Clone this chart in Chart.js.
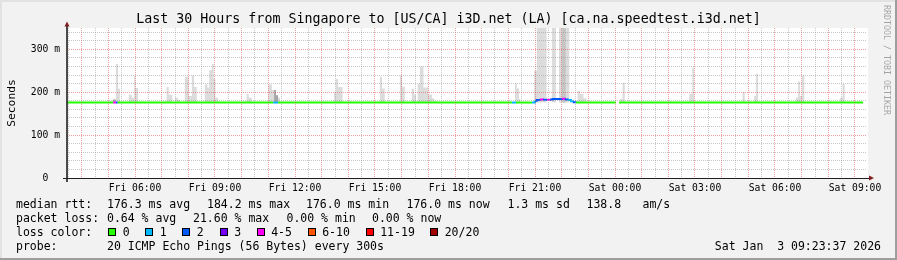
<!DOCTYPE html>
<html>
<head>
<meta charset="utf-8">
<title>Last 30 Hours from Singapore to [US/CA] i3D.net (LA)</title>
<script src="https://cdn.jsdelivr.net/npm/chart.js@4.4.1/dist/chart.umd.min.js"></script>
<style>
  html, body { margin: 0; padding: 0; background: #f2f2f2; }
  #wrap { width: 897px; height: 260px; }
</style>
</head>
<body>
<div id="wrap"><canvas id="graph" width="897" height="260"></canvas></div>
<script>
// Time range of the graph (x axis is hours since Fri 00:00)
const timeStart = 'Fri 03:27';
const timeEnd = 'Sat 09:27';

// Median RTT (ms) and lost pings (out of 20) per change point
const medTimes = ['Fri 03:27', 'Fri 05:11', 'Fri 05:17', 'Fri 05:21', 'Fri 11:11', 'Fri 11:22',
    'Fri 20:08', 'Fri 20:17', 'Fri 20:53', 'Fri 21:00', 'Fri 21:04', 'Fri 21:11', 'Fri 21:18',
    'Fri 21:27', 'Fri 21:34', 'Fri 21:40', 'Fri 22:01', 'Fri 22:07', 'Fri 22:14', 'Fri 22:21',
    'Fri 22:25', 'Fri 22:32', 'Sat 00:02', 'Sat 00:03', 'Sat 00:09', 'Sat 09:18'];
const medValues = [176, 176, 176, 176, 176, 176,
    176, 176, 176, 180, 182, 183, 182.5,
    182.5, 183, 184, 185, 183, 182, 179,
    176.5, 176, 176, null, 176, 176];
const medLoss = [0, 4, 2, 0, 1, 0,
    1, 0, 1, 2, 2, 4, 2,
    4, 2, 2, 4, 2, 1, 1,
    2, 0, 0, 0, 0, 0];

// Smoke (ping spread above the median), light layer
const smokeTimes = ['Fri 03:27',
    'Fri 05:17', 'Fri 05:22', 'Fri 05:26',
    'Fri 05:46', 'Fri 05:53', 'Fri 05:58', 'Fri 06:01', 'Fri 06:07',
    'Fri 07:11', 'Fri 07:16', 'Fri 07:24',
    'Fri 07:30', 'Fri 07:37', 'Fri 07:41',
    'Fri 07:52', 'Fri 08:01', 'Fri 08:08', 'Fri 08:13', 'Fri 08:19',
    'Fri 08:37', 'Fri 08:43', 'Fri 08:47', 'Fri 08:53', 'Fri 08:57', 'Fri 09:01', 'Fri 09:07',
    'Fri 10:11', 'Fri 10:16', 'Fri 10:23',
    'Fri 11:00', 'Fri 11:08', 'Fri 11:13', 'Fri 11:17', 'Fri 11:22', 'Fri 11:26',
    'Fri 13:28', 'Fri 13:32', 'Fri 13:37', 'Fri 13:47',
    'Fri 15:11', 'Fri 15:16', 'Fri 15:22',
    'Fri 15:56', 'Fri 16:01', 'Fri 16:07',
    'Fri 16:23', 'Fri 16:28', 'Fri 16:32', 'Fri 16:36', 'Fri 16:41', 'Fri 16:49', 'Fri 17:00',
    'Fri 17:08', 'Fri 17:13', 'Fri 17:19',
    'Fri 20:15', 'Fri 20:19', 'Fri 20:24', 'Fri 20:27',
    'Fri 20:58', 'Fri 21:04', 'Fri 21:26', 'Fri 21:38', 'Fri 21:47', 'Fri 21:54', 'Fri 22:17',
    'Fri 22:36', 'Fri 22:41', 'Fri 22:49', 'Fri 22:56',
    'Sat 00:11', 'Sat 00:17', 'Sat 00:22',
    'Sat 02:47', 'Sat 02:54', 'Sat 02:58',
    'Sat 04:47', 'Sat 04:52',
    'Sat 05:13', 'Sat 05:17', 'Sat 05:22',
    'Sat 06:47', 'Sat 06:52', 'Sat 06:56', 'Sat 07:01', 'Sat 07:06',
    'Sat 08:26', 'Sat 08:32', 'Sat 08:37', 'Sat 09:18'];
const smokeTops = [176,
    266, 208, 176,
    194, 187, 238, 210, 176,
    212, 194, 176,
    187, 182, 176,
    236, 191, 239, 212, 176,
    218, 211, 252, 266, 231, 187, 176,
    196, 187, 176,
    218, 205, 205, 193, 187, 176,
    201, 231, 212, 176,
    236, 209, 176,
    239, 213, 176,
    208, 194, 176, 219, 260, 211, 195,
    186, 180, 176,
    221, 209, 184, 176,
    250, 350, 176, 350, 176, 350, 176,
    203, 196, 186, 176,
    184, 222, 176,
    196, 258, 176,
    200, 176,
    191, 243, 176,
    188, 225, 191, 239, 176,
    187, 219, 176, 176];

// Darker smoke close to the median
const darkTimes = ['Fri 03:27', 'Fri 05:10', 'Fri 05:17', 'Fri 11:13', 'Fri 11:17', 'Fri 11:22', 'Sat 09:18'];
const darkTops = [176, 183, 176, 205, 193, 176, 176];
const midTimes = ['Fri 03:27', 'Fri 22:01', 'Fri 22:09', 'Sat 09:18'];
const midTops = [176, 350, 176, 176];

const lossColors = ['#22ff00', '#00b8ff', '#0059ff', '#7600ff', '#ff00ff', '#ff5500', '#ff0000', '#a00000'];
const lossLabels = ['0', '1', '2', '3', '4-5', '6-10', '11-19', '20/20'];

const graphTitle = 'Last 30 Hours from Singapore to [US/CA] i3D.net (LA) [ca.na.speedtest.i3d.net]';
const statsRtt = ['median rtt:', '176.3 ms avg', '184.2 ms max', '176.0 ms min', '176.0 ms now', '1.3 ms sd', '138.8', 'am/s'];
const statsLoss = ['packet loss:', '0.64 % avg', '21.60 % max', '0.00 % min', '0.00 % now'];
const probeText = ['probe:', '20 ICMP Echo Pings (56 Bytes) every 300s'];
const stampText = 'Sat Jan  3 09:23:37 2026';

function toHours(s) {
    const [day, hm] = s.split(' ');
    const [h, m] = hm.split(':').map(Number);
    return (day === 'Sat' ? 24 : 0) + h + m / 60;
}

function lossColor(n) {
    if (n <= 3) return lossColors[n];
    if (n <= 5) return lossColors[4];
    if (n <= 10) return lossColors[5];
    if (n <= 19) return lossColors[6];
    return lossColors[7];
}

function points(times, values) {
    return times.map((t, i) => ({ x: toHours(t), y: values[i] }));
}

const MONO = "'DejaVu Sans Mono', monospace";
const majorGrid = 'rgba(222, 79, 79, 0.55)';
const minorGrid = 'rgba(143, 143, 143, 0.5)';

// Background, frame, axes with arrows, legend text and watermark
const rrdDecor = {
    id: 'rrdDecor',
    beforeDraw(chart) {
        const { ctx, chartArea: a, width, height } = chart;
        ctx.save();
        ctx.fillStyle = '#f2f2f2';
        ctx.fillRect(0, 0, width, height);
        ctx.fillStyle = '#e2e2e2';
        ctx.fillRect(0, 0, width, 2);
        ctx.fillRect(0, 0, 2, height);
        ctx.fillStyle = '#9e9e9e';
        ctx.fillRect(width - 2, 0, 2, height);
        ctx.fillRect(0, height - 2, width, 2);
        ctx.fillStyle = '#ffffff';
        ctx.fillRect(a.left, a.top, a.right - a.left + 1, a.bottom - a.top);
        ctx.restore();
    },
    afterDraw(chart) {
        const { ctx, chartArea: a } = chart;
        ctx.save();

        // axes
        ctx.strokeStyle = '#1f1f1f';
        ctx.lineWidth = 1;
        ctx.beginPath();
        ctx.moveTo(a.left - 4, a.bottom + 0.5);
        ctx.lineTo(a.right + 3, a.bottom + 0.5);
        ctx.stroke();
        ctx.lineWidth = 1.6;
        ctx.beginPath();
        ctx.moveTo(a.left, a.bottom + 4);
        ctx.lineTo(a.left, a.top - 2);
        ctx.stroke();

        // arrows
        ctx.fillStyle = '#801f1f';
        ctx.beginPath();
        ctx.moveTo(a.left - 2.5, a.top - 1.5);
        ctx.lineTo(a.left + 2.5, a.top - 1.5);
        ctx.lineTo(a.left, a.top - 6.5);
        ctx.closePath();
        ctx.fill();
        ctx.beginPath();
        ctx.moveTo(a.right + 2, a.bottom - 2.5);
        ctx.lineTo(a.right + 2, a.bottom + 2.5);
        ctx.lineTo(a.right + 7, a.bottom);
        ctx.closePath();
        ctx.fill();

        // legend
        ctx.fillStyle = '#000';
        ctx.font = '11.5px ' + MONO;
        ctx.textBaseline = 'alphabetic';
        ctx.textAlign = 'left';
        const rttX = [16, 107, 207, 306, 406.5, 507.5, 586.5, 642.5];
        statsRtt.forEach((s, i) => ctx.fillText(s, rttX[i], 207.5));
        const lossX = [16, 107, 193, 286.5, 372];
        statsLoss.forEach((s, i) => ctx.fillText(s, lossX[i], 221.7));
        ctx.fillText('loss color:', 16, 235.9);
        const boxX = [108, 145, 182, 219.5, 256.5, 307.5, 365.5, 430];
        lossLabels.forEach((lbl, i) => {
            ctx.fillStyle = lossColors[i];
            ctx.fillRect(Math.round(boxX[i]), 228, 8, 8);
            ctx.strokeStyle = '#000';
            ctx.lineWidth = 1;
            ctx.strokeRect(Math.round(boxX[i]) + 0.5, 228.5, 7, 7);
            ctx.fillStyle = '#000';
            ctx.fillText(lbl, boxX[i] + 14.7, 235.9);
        });
        ctx.fillText(probeText[0], 16, 250.1);
        ctx.fillText(probeText[1], 107, 250.1);
        ctx.textAlign = 'right';
        ctx.fillText(stampText, 881, 250.1);

        // watermark
        ctx.translate(886, 5);
        ctx.rotate(Math.PI / 2);
        ctx.textAlign = 'left';
        ctx.textBaseline = 'middle';
        ctx.font = '8.3px ' + MONO;
        ctx.fillStyle = 'rgba(0, 0, 0, 0.33)';
        ctx.fillText('RRDTOOL / TOBI OETIKER', 0, 0);
        ctx.restore();
    }
};

Chart.defaults.font.family = MONO;
Chart.defaults.color = '#000';

const graph = new Chart(document.getElementById('graph').getContext('2d'), {
    type: 'line',
    data: {
        datasets: [{
            label: 'median rtt',
            data: points(medTimes, medValues),
            stepped: true,
            borderWidth: 2,
            borderColor: lossColors[0],
            segment: {
                borderColor: c => lossColor(medLoss[c.p0DataIndex])
            },
            pointRadius: 0,
            fill: false
        }, {
            label: 'smoke dark',
            data: points(darkTimes, darkTops),
            stepped: true,
            borderWidth: 0,
            borderColor: 'transparent',
            backgroundColor: '#a6a6a6',
            pointRadius: 0,
            fill: { value: 176 }
        }, {
            label: 'smoke mid',
            data: points(midTimes, midTops),
            stepped: true,
            borderWidth: 0,
            borderColor: 'transparent',
            backgroundColor: '#c4c4c4',
            pointRadius: 0,
            fill: { value: 176 }
        }, {
            label: 'smoke',
            data: points(smokeTimes, smokeTops),
            stepped: true,
            borderWidth: 0,
            borderColor: 'transparent',
            backgroundColor: '#dcdcdc',
            pointRadius: 0,
            fill: { value: 176 }
        }]
    },
    options: {
        responsive: false,
        animation: false,
        events: [],
        layout: { padding: 0 },
        plugins: {
            legend: { display: false },
            tooltip: { enabled: false },
            title: {
                display: true,
                text: graphTitle,
                color: '#000',
                font: { family: MONO, size: 13.3, weight: 'normal' },
                padding: { top: 12, bottom: 0 }
            }
        },
        scales: {
            x: {
                type: 'linear',
                min: toHours(timeStart),
                max: toHours(timeEnd),
                afterBuildTicks: scale => {
                    const ticks = [];
                    for (let h = 3.5; h <= 33; h += 0.5) ticks.push({ value: h });
                    scale.ticks = ticks;
                },
                afterFit: scale => { scale.height = 82; },
                ticks: {
                    autoSkip: false,
                    maxRotation: 0,
                    minRotation: 0,
                    padding: 2,
                    font: { size: 9.7 },
                    callback: v => {
                        if (v % 3 !== 0) return '';
                        const day = v >= 24 ? 'Sat' : 'Fri';
                        return day + ' ' + String(v % 24).padStart(2, '0') + ':00';
                    }
                },
                grid: {
                    z: 1,
                    tickLength: 3,
                    tickColor: 'transparent',
                    color: c => Number.isInteger(c.tick.value) ? majorGrid : minorGrid
                },
                border: { display: false, dash: [1, 1] }
            },
            y: {
                min: 0,
                max: 350,
                afterBuildTicks: scale => {
                    const ticks = [];
                    for (let v = 0; v <= 340; v += 20) ticks.push({ value: v });
                    scale.ticks = ticks;
                },
                afterFit: scale => { scale.width = 67; },
                ticks: {
                    autoSkip: false,
                    padding: 3,
                    font: { size: 9.7 },
                    callback: v => v % 100 !== 0 ? '' : (v === 0 ? '0  ' : v + ' m')
                },
                grid: {
                    z: 1,
                    tickLength: 4,
                    tickColor: 'transparent',
                    color: c => c.tick.value === 0 ? 'transparent'
                        : (c.tick.value % 100 === 0 ? majorGrid : minorGrid)
                },
                border: { display: false, dash: [1, 1] },
                title: {
                    display: true,
                    text: 'Seconds',
                    font: { size: 11.3 },
                    padding: { top: 5, bottom: 0 }
                }
            },
            // empty strip on the right, room for the arrow and the watermark
            gutter: {
                position: 'right',
                min: 0,
                max: 350,
                afterFit: scale => { scale.width = 30; },
                ticks: { display: false },
                grid: { display: false },
                border: { display: false }
            }
        }
    },
    plugins: [rrdDecor]
});
</script>
</body>
</html>
